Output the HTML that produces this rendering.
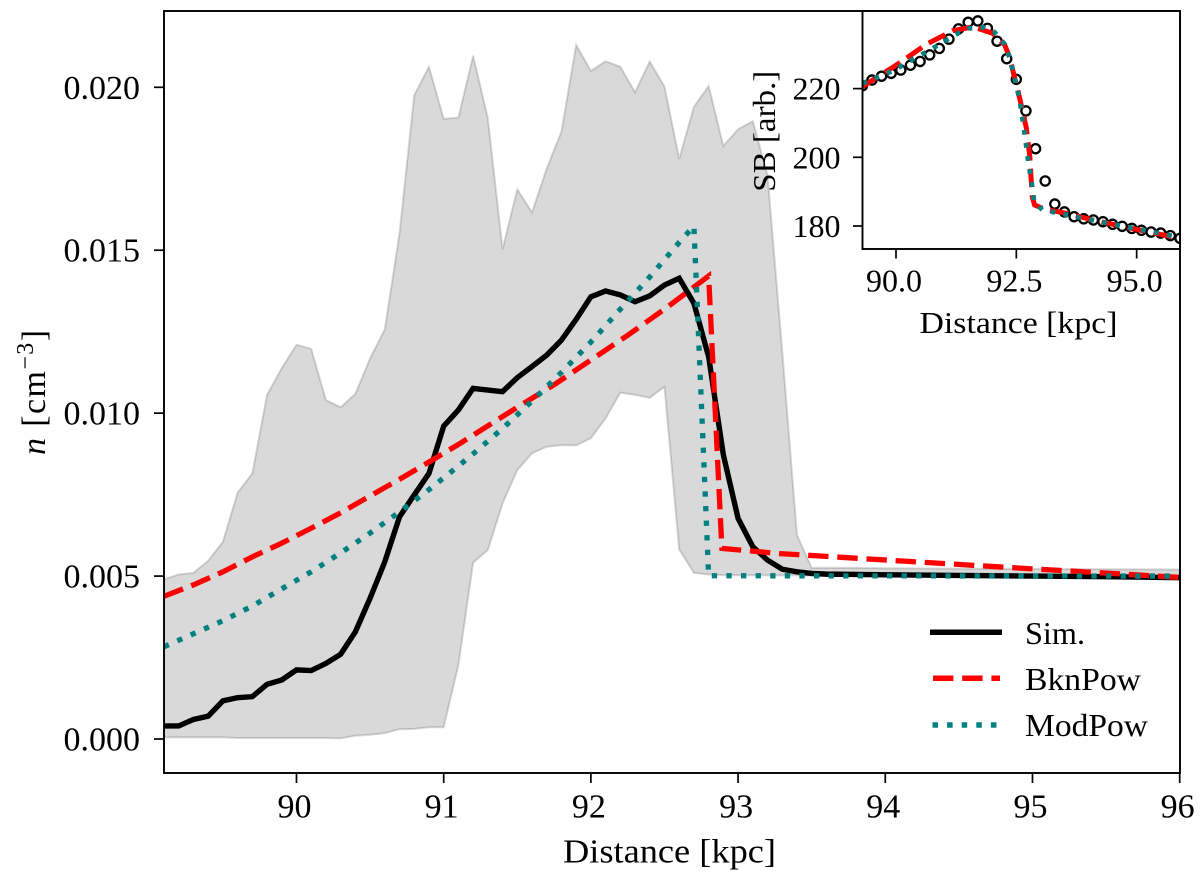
<!DOCTYPE html>
<html lang="en">
<head>
<meta charset="utf-8">
<title>Density profile</title>
<style>
html,body{margin:0;padding:0;background:#fff;}
svg{display:block;}
text{font-family:"Liberation Serif",serif;fill:#000;}
</style>
</head>
<body>
<svg id="fig" xmlns="http://www.w3.org/2000/svg" width="1200" height="875" viewBox="0 0 1200 875">
  <rect width="1200" height="875" fill="#fff"/>
  <g id="main"></g>
  <text x="563" y="862.5" font-size="34" textLength="213" lengthAdjust="spacingAndGlyphs">Distance [kpc]</text>
  <text transform="translate(45,455) rotate(-90)" font-size="34" letter-spacing="1.4"><tspan font-style="italic">n</tspan> [cm<tspan dy="-12" font-size="24">−3</tspan><tspan dy="12">]</tspan></text>
  <g id="legend">
    <line x1="930" x2="1002" y1="632.3" y2="632.3" stroke="#000" stroke-width="5.5"/>
    <text x="1025" y="644" font-size="32" textLength="60" lengthAdjust="spacingAndGlyphs">Sim.</text>
    <line x1="933" x2="1000" y1="678.3" y2="678.3" stroke="#f00" stroke-width="5.5" stroke-dasharray="20.4 8.8"/>
    <text x="1025" y="690" font-size="32" textLength="116" lengthAdjust="spacingAndGlyphs">BknPow</text>
    <line x1="932.5" x2="1000" y1="725" y2="725" stroke="#008080" stroke-width="5.5" stroke-dasharray="5.5 9.1"/>
    <text x="1025" y="736" font-size="32" textLength="123" lengthAdjust="spacingAndGlyphs">ModPow</text>
  </g>
  <g id="inset"></g>
  <text x="919.5" y="333" font-size="31" textLength="198" lengthAdjust="spacingAndGlyphs">Distance [kpc]</text>
  <text transform="translate(775,191.7) rotate(-90)" font-size="32" textLength="121" lengthAdjust="spacingAndGlyphs">SB [arb.]</text>
</svg>
<script>
// Main plot data
const simDistance = [89.1,89.2,89.3,89.4,89.5,89.6,89.7,89.8,89.9,90.0,90.1,90.2,90.3,90.4,90.5,90.6,90.7,90.8,90.9,91.0,91.1,91.2,91.3,91.4,91.5,91.6,91.7,91.8,91.9,92.0,92.1,92.2,92.3,92.4,92.5,92.6,92.7,92.8,92.9,93.0,93.1,93.2,93.3,93.4,93.5,93.6,93.8,94.0,94.5,95.0,95.5,96.0];
const simDensity = [0.0004,0.0004,0.0006,0.0007,0.00117,0.00127,0.0013,0.00168,0.00181,0.00212,0.0021,0.00232,0.0026,0.00329,0.00432,0.00544,0.00682,0.00749,0.00815,0.0096,0.0101,0.01076,0.01071,0.01066,0.01109,0.01143,0.01178,0.01224,0.01288,0.01357,0.01375,0.01363,0.01342,0.0136,0.01393,0.01414,0.01337,0.01173,0.00872,0.00677,0.0059,0.00549,0.00521,0.00513,0.00508,0.00506,0.00505,0.00504,0.00502,0.005,0.00498,0.00495];
const bandUpper = [0.0049,0.00505,0.0051,0.00547,0.00605,0.00756,0.00815,0.01056,0.01138,0.0121,0.01197,0.0104,0.01018,0.01059,0.01168,0.01257,0.01552,0.01976,0.02063,0.01903,0.01907,0.02097,0.01905,0.01503,0.01687,0.01616,0.01751,0.01864,0.0213,0.0205,0.0208,0.02063,0.01985,0.02079,0.02002,0.0178,0.0194,0.02004,0.0182,0.01871,0.01896,0.0173,0.0119,0.00626,0.00525,0.00525,0.00525,0.00524,0.00523,0.00522,0.00521,0.0052];
const bandLower = [0.00005,0.00005,0.00005,0.00005,0.00005,0.00003,0.00003,0.00003,0.00003,0.00003,0.00003,0.00003,0.00002,0.0001,0.00013,0.00018,0.0003,0.00031,0.00036,0.00036,0.00227,0.00541,0.0058,0.00723,0.00825,0.00877,0.00897,0.00902,0.00901,0.00923,0.00984,0.01063,0.01056,0.01047,0.01081,0.00582,0.0051,0.00505,0.00503,0.00502,0.00502,0.00502,0.00502,0.00502,0.00501,0.00501,0.005,0.005,0.00499,0.00498,0.00496,0.00494];
const bknDistance = [89.1,89.3,89.5,89.7,89.9,90.1,90.3,90.5,90.7,90.9,91.1,91.3,91.5,91.75,92.0,92.25,92.5,92.8,92.89,93.285,94.78,96.0];
const bknDensity = [0.00438,0.00473,0.00513,0.00559,0.00601,0.00647,0.00694,0.00746,0.00797,0.0085,0.00904,0.00961,0.01018,0.01087,0.01163,0.01239,0.01319,0.01421,0.00585,0.00569,0.00528,0.00496];
const modDistance = [89.1,89.3,89.5,89.7,89.9,90.1,90.3,90.5,90.7,90.9,91.1,91.2,91.4,91.6,91.8,92.0,92.2,92.4,92.6,92.7,92.8,96.0];
const modDensity = [0.00283,0.00323,0.00363,0.00408,0.00461,0.00513,0.00571,0.00632,0.00697,0.00765,0.00838,0.00875,0.00953,0.01037,0.01125,0.01218,0.01319,0.01418,0.01524,0.01574,0.00501,0.005];
const mainXTicks = [90,91,92,93,94,95,96];
const mainYTicks = [0,0.005,0.01,0.015,0.02];
const mainYTickLabels = ["0.000","0.005","0.010","0.015","0.020"];

// Inset data
const sbDistance = [89.3,89.5,89.7,89.9,90.1,90.3,90.5,90.7,90.9,91.1,91.3,91.5,91.7,91.9,92.1,92.3,92.5,92.7,92.9,93.1,93.3,93.5,93.7,93.9,94.1,94.3,94.5,94.7,94.9,95.1,95.3,95.5,95.7,95.9];
const sbValues = [220.76,222.5,223.6,224.45,225.4,226.8,227.9,229.8,231.7,234.4,237.4,239.3,239.7,237.55,233.8,228.7,222.7,213.5,202.5,193.1,186.4,184.1,182.7,182.1,181.75,181.25,180.5,179.9,179.3,178.75,178.25,177.95,177.2,176.4];
const insetBknDistance = [89.3,90.11,90.63,91.18,91.6,92.01,92.26,92.36,92.57,92.71,92.78,92.83,92.88,93.09,93.54,94.09,94.79,95.9];
const insetBknValues = [220.55,227.8,232.9,236.86,238.0,236.1,232.7,229.1,217.2,208.4,200.2,188.5,186.1,184.9,183.7,181.75,179.6,176.4];
const insetModDistance = [89.3,89.94,90.42,90.7,91.22,91.5,91.81,92.05,92.26,92.36,92.57,92.66,92.74,92.83,92.87,93.04,93.33,94.23,95.41,95.9];
const insetModValues = [221.5,225.2,229.1,231.2,235.6,237.55,237.85,236.4,232.9,229.1,216.7,208.2,199.7,191.45,187.1,184.7,183.9,181.25,178.05,176.7];
const insetXTicks = [90,92.5,95];
const insetXTickLabels = ["90.0","92.5","95.0"];
const insetYTicks = [180,200,220];

const NS = "http://www.w3.org/2000/svg";
function make(tag, parent, attrs, content) {
  const el = document.createElementNS(NS, tag);
  for (const k in attrs) el.setAttribute(k, attrs[k]);
  if (content !== undefined) el.textContent = content;
  parent.appendChild(el);
  return el;
}
// Axis functions
const xMain = v => 164 + (v - 89.1) * 147.2;
const yMain = v => 739 - v * 32585;
const xInset = v => 896 + (v - 90) * 48.13;
const yInset = v => 226 - (v - 180) * 3.435;
const pts = (xs, ys, fx, fy) => xs.map((x, i) => fx(x).toFixed(2) + "," + fy(ys[i]).toFixed(2)).join(" ");

const main = document.getElementById("main");
const defs = make("defs", main, {});
const clipMain = make("clipPath", defs, {id: "clip-main"});
make("rect", clipMain, {x: 164, y: 11, width: 1016, height: 762});
const clipInset = make("clipPath", defs, {id: "clip-inset"});
make("rect", clipInset, {x: 862.5, y: 11, width: 317.5, height: 238});

const mainSeries = make("g", main, {"clip-path": "url(#clip-main)"});



const bandPts = pts(simDistance, bandUpper, xMain, yMain) + " " + pts(simDistance.slice().reverse(), bandLower.slice().reverse(), xMain, yMain);
const band = make("polygon", mainSeries, {points: bandPts, fill: "#000", "fill-opacity": 0.15, stroke: "#000", "stroke-opacity": 0.15, "stroke-width": 2});



const simLine = make("polyline", mainSeries, {points: pts(simDistance, simDensity, xMain, yMain), fill: "none", stroke: "#000", "stroke-width": 5.4, "stroke-linejoin": "miter"});



const bknLine = make("polyline", mainSeries, {points: pts(bknDistance, bknDensity, xMain, yMain), fill: "none", stroke: "#f00", "stroke-width": 5.3, "stroke-dasharray": "20.4 8.8"});



const modLine = make("polyline", mainSeries, {points: pts(modDistance, modDensity, xMain, yMain), fill: "none", stroke: "#008080", "stroke-width": 5.3, "stroke-dasharray": "5.3 9.3"});



const mainFrame = make("rect", main, {x: 164, y: 11, width: 1016, height: 762, fill: "none", stroke: "#000", "stroke-width": 1.9});



mainXTicks.forEach(v => {
  const t = make("line", main, {x1: xMain(v), x2: xMain(v), y1: 773, y2: 783, stroke: "#000", "stroke-width": 1.7});
  
  
  const l = make("text", main, {x: xMain(v) - 2, y: 817.5, "font-size": 34, "text-anchor": "middle"}, String(v));
  
  
});
mainYTicks.forEach((v, i) => {
  const t = make("line", main, {x1: 154, x2: 164, y1: yMain(v), y2: yMain(v), stroke: "#000", "stroke-width": 1.7});
  
  
  const l = make("text", main, {x: 140, y: yMain(v) + 11.5, "font-size": 34, "text-anchor": "end"}, mainYTickLabels[i]);
  
  
});

const inset = document.getElementById("inset");
const insetBg = make("rect", inset, {x: 862.5, y: 11, width: 317.5, height: 238, fill: "#fff"});



const insetSeries = make("g", inset, {"clip-path": "url(#clip-inset)"});



sbDistance.forEach((d, i) => {
  const c = make("circle", insetSeries, {cx: xInset(d), cy: yInset(sbValues[i]), r: 4.6, fill: "none", stroke: "#000", "stroke-width": 2.3});
  
  
});
const insetBkn = make("polyline", insetSeries, {points: pts(insetBknDistance, insetBknValues, xInset, yInset), fill: "none", stroke: "#f00", "stroke-width": 5, "stroke-dasharray": "18.5 8"});


const insetMod = make("polyline", insetSeries, {points: pts(insetModDistance, insetModValues, xInset, yInset), fill: "none", stroke: "#008080", "stroke-width": 4.8, "stroke-dasharray": "4.8 8.4"});



const insetFrame = make("rect", inset, {x: 862.5, y: 11, width: 317.5, height: 238, fill: "none", stroke: "#000", "stroke-width": 1.9});



insetXTicks.forEach((v, i) => {
  const t = make("line", inset, {x1: xInset(v), x2: xInset(v), y1: 249, y2: 258.5, stroke: "#000", "stroke-width": 1.7});
  
  
  const l = make("text", inset, {x: xInset(v) - 2, y: 291.5, "font-size": 32, "text-anchor": "middle"}, insetXTickLabels[i]);
  
  
});
insetYTicks.forEach(v => {
  const t = make("line", inset, {x1: 853, x2: 862.5, y1: yInset(v), y2: yInset(v), stroke: "#000", "stroke-width": 1.7});
  
  
  const l = make("text", inset, {x: 840.5, y: yInset(v) + 11, "font-size": 32, "text-anchor": "end"}, String(v));
  
  
});
</script>
</body>
</html>
